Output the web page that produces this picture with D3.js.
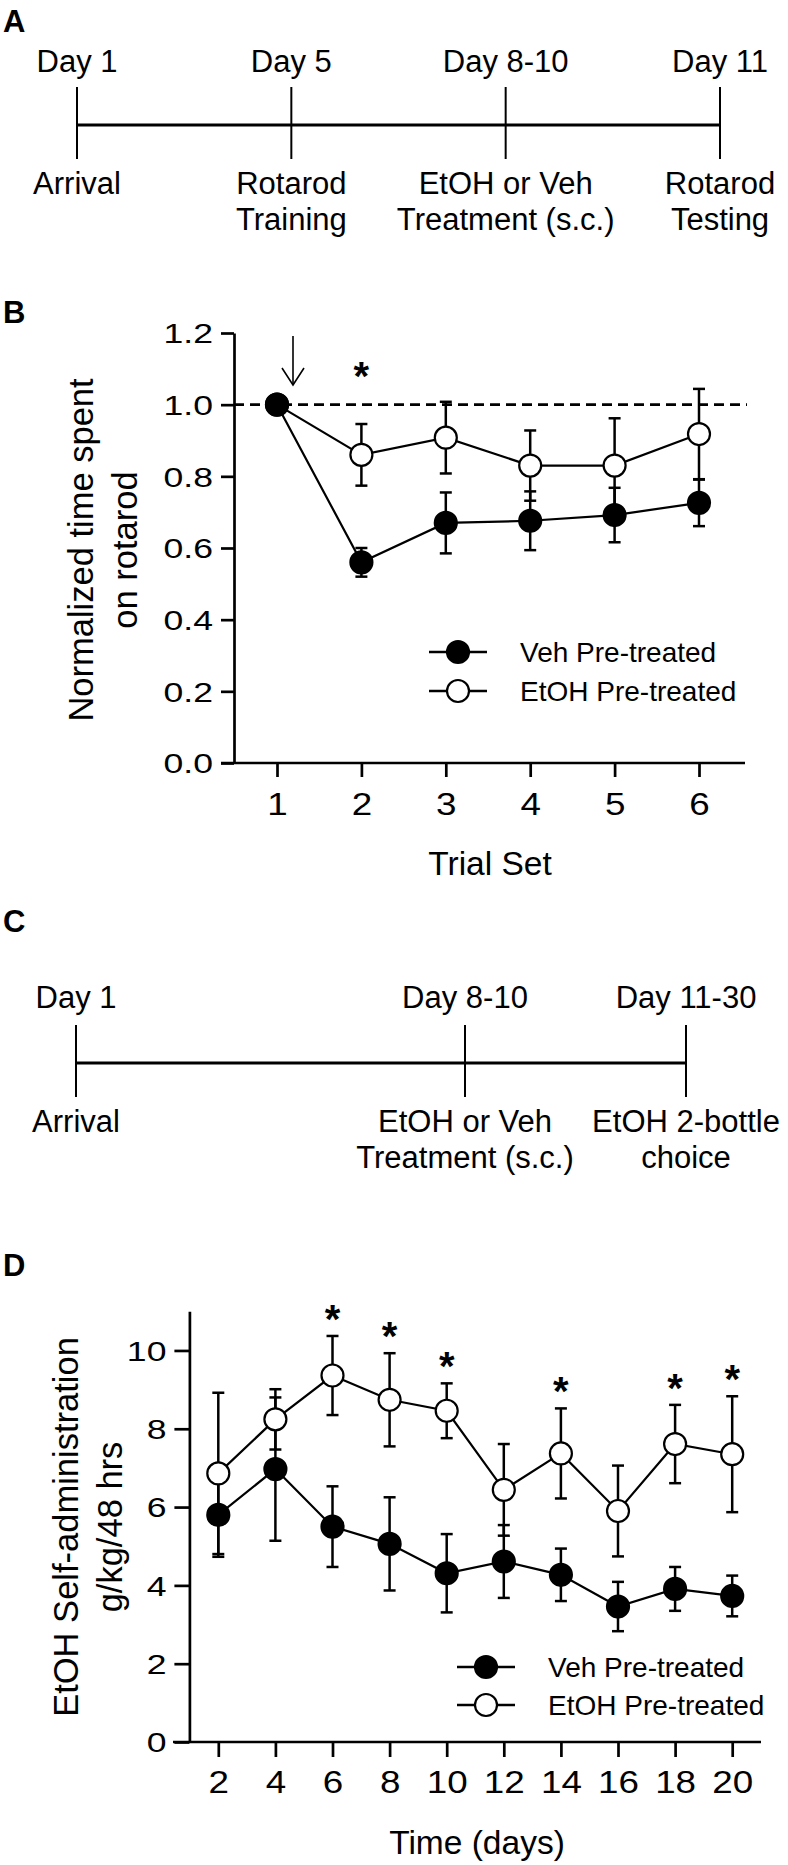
<!DOCTYPE html>
<html><head><meta charset="utf-8">
<script src="https://cdn.jsdelivr.net/npm/d3@7"></script>
<style>
body{margin:0;background:#fff}
svg{display:block}
text{font-family:"Liberation Sans",Arial,Helvetica,sans-serif;fill:#000}
</style>
</head><body>
<svg id="fig" width="788" height="1865"></svg>
<script>
// ---------- DATA ----------
// Panel A timeline
const eventsA = ["Day 1", "Day 5", "Day 8-10", "Day 11"];
const labelsA = [["Arrival"], ["Rotarod", "Training"], ["EtOH or Veh", "Treatment (s.c.)"], ["Rotarod", "Testing"]];
// Panel C timeline
const eventsC = ["Day 1", "Day 8-10", "Day 11-30"];
const labelsC = [["Arrival"], ["EtOH or Veh", "Treatment (s.c.)"], ["EtOH 2-bottle", "choice"]];
// Panel B: rotarod
const trials = [1, 2, 3, 4, 5, 6];
const bVehMean = [1.0, 0.56, 0.67, 0.676, 0.692, 0.726];
const bVehSem = [0, 0.04, 0.085, 0.082, 0.076, 0.065];
const bEtohMean = [1.0, 0.86, 0.908, 0.83, 0.83, 0.918];
const bEtohSem = [0, 0.086, 0.10, 0.098, 0.132, 0.126];
const bSig = [2];
const bYTicks = [0, 0.2, 0.4, 0.6, 0.8, 1.0, 1.2];
const bYTitle = ["Normalized time spent", "on rotarod"];
const bXTitle = "Trial Set";
// Panel D: self-administration
const days = [2, 4, 6, 8, 10, 12, 14, 16, 18, 20];
const dVehMean = [5.80, 6.97, 5.50, 5.06, 4.31, 4.61, 4.27, 3.46, 3.91, 3.73];
const dVehSem = [1.07, 1.83, 1.03, 1.19, 1.00, 0.93, 0.67, 0.63, 0.56, 0.52];
const dEtohMean = [6.86, 8.24, 9.36, 8.74, 8.46, 6.44, 7.37, 5.90, 7.61, 7.35];
const dEtohSem = [2.06, 0.77, 1.01, 1.19, 0.70, 1.17, 1.15, 1.16, 1.00, 1.48];
const dSig = [6, 8, 10, 14, 18, 20];
const dYTicks = [0, 2, 4, 6, 8, 10];
const dYTitle = ["EtOH Self-administration", "g/kg/48 hrs"];
const dXTitle = "Time (days)";
const legendLabels = ["Veh Pre-treated", "EtOH Pre-treated"];
const panelLetters = ["A", "B", "C", "D"];

// ---------- DRAWING ----------
const svg = d3.select("#fig");

function txt(g, x, y, s, size, o = {}) {
  let tr = `translate(${x},${y})`;
  if (o.rot) tr += ` rotate(${o.rot})`;
  if (o.sx) tr += ` scale(${o.sx},1)`;
  const t = g.append("text").attr("transform", tr)
    .attr("font-size", size).attr("text-anchor", o.anchor || "middle").text(s);
  if (o.bold) t.attr("font-weight", "bold");
  return t;
}

// panel letters
const letterY = [32, 323, 932, 1276];
panelLetters.forEach((L, i) => txt(svg, 3, letterY[i], L, 31, {anchor: "start", bold: true}));

// ---- timelines ----
function timeline(events, labels, x, yLine, yDay, yLab) {
  const g = svg.append("g");
  g.append("line").attr("x1", x(events[0])).attr("x2", x(events[events.length - 1]))
    .attr("y1", yLine).attr("y2", yLine).attr("stroke", "#000").attr("stroke-width", 3);
  events.forEach((e, i) => {
    g.append("line").attr("x1", x(e)).attr("x2", x(e)).attr("y1", yLine - 38).attr("y2", yLine + 34)
      .attr("stroke", "#000").attr("stroke-width", 2);
    txt(g, x(e), yDay, e, 31);
    labels[i].forEach((l, j) => txt(g, x(e), yLab + j * 36, l, 31));
  });
}
const xA = d3.scalePoint().domain(eventsA).range([77, 720]);
timeline(eventsA, labelsA, xA, 125, 72, 194);
const xC = d3.scaleOrdinal().domain(eventsC).range([76, 465, 686]);
timeline(eventsC, labelsC, xC, 1063, 1008, 1132);

// ---- generic XY panel ----
function panel(cfg) {
  const {x, y, xVals, veh, vehSem, etoh, etohSem, yTicks, yFmt, axisX, xLeft, xRight,
         yTickLen, yTickTextDx, xTickLen, xTickBase} = cfg;
  const g = svg.append("g");
  const y0 = y(0);
  // y axis
  const ya = g.append("g").attr("transform", `translate(${axisX},0)`)
    .call(d3.axisLeft(y).tickValues(yTicks).tickSize(yTickLen).tickSizeOuter(0).tickFormat(yFmt));
  ya.select(".domain").attr("stroke-width", 2.7);
  ya.selectAll(".tick line").attr("stroke-width", 2.7);
  ya.selectAll(".tick text").attr("x", null).attr("dy", "0.35em").attr("font-size", 28)
    .attr("fill", "#000")
    .attr("transform", `translate(${yTickTextDx},0) scale(1.27,1)`);
  ya.attr("font-family", null).attr("font-size", null);
  // x axis
  const xa = g.append("g").attr("transform", `translate(0,${y0})`)
    .call(d3.axisBottom(x).tickValues(xVals).tickSize(xTickLen).tickSizeOuter(0).tickFormat(d3.format("d")));
  xa.select(".domain").remove();
  xa.selectAll(".tick line").attr("stroke-width", 2.7);
  xa.selectAll(".tick text").attr("y", null).attr("dy", null).attr("font-size", 32)
    .attr("fill", "#000").attr("transform", `translate(0,${xTickBase}) scale(1.15,1)`);
  xa.attr("font-family", null).attr("font-size", null);
  g.append("line").attr("x1", xLeft).attr("x2", xRight).attr("y1", y0).attr("y2", y0)
    .attr("stroke", "#000").attr("stroke-width", 2.7);

  if (cfg.dashed !== undefined) {
    g.append("line").attr("x1", axisX).attr("x2", xRight + 2).attr("y1", y(cfg.dashed)).attr("y2", y(cfg.dashed))
      .attr("stroke", "#000").attr("stroke-width", 2.6).attr("stroke-dasharray", "10,6");
  }

  const series = [
    {m: etoh, s: etohSem, fill: "#fff"},
    {m: veh, s: vehSem, fill: "#000"}
  ];
  // error bars
  series.forEach(sr => {
    xVals.forEach((xv, i) => {
      if (!sr.s[i]) return;
      const cx = x(xv), yt = y(sr.m[i] + sr.s[i]), yb = y(sr.m[i] - sr.s[i]);
      g.append("line").attr("x1", cx).attr("x2", cx).attr("y1", yt).attr("y2", yb)
        .attr("stroke", "#000").attr("stroke-width", 2.5);
      [yt, yb].forEach(yy => g.append("line").attr("x1", cx - 6).attr("x2", cx + 6)
        .attr("y1", yy).attr("y2", yy).attr("stroke", "#000").attr("stroke-width", 2.5));
    });
  });
  // lines
  const line = d3.line().x((d, i) => x(xVals[i])).y(d => y(d));
  series.forEach(sr => g.append("path").attr("d", line(sr.m)).attr("fill", "none")
    .attr("stroke", "#000").attr("stroke-width", 2.2));
  // markers
  series.forEach(sr => {
    g.selectAll(null).data(sr.m).enter().append("circle")
      .attr("cx", (d, i) => x(xVals[i])).attr("cy", d => y(d)).attr("r", 11)
      .attr("fill", sr.fill).attr("stroke", "#000").attr("stroke-width", 2.2);
  });
  // significance stars
  cfg.sig.forEach(sv => {
    const i = xVals.indexOf(sv);
    const cy = y(etoh[i] + etohSem[i]) - cfg.starOffset;
    txt(g, x(sv), cy + 23, "*", 40, {bold: true});
  });
  // legend
  const leg = cfg.legend;
  legendLabels.forEach((lab, k) => {
    const ly = leg.y + k * leg.dy;
    g.append("line").attr("x1", leg.x).attr("x2", leg.x + 58).attr("y1", ly).attr("y2", ly)
      .attr("stroke", "#000").attr("stroke-width", 2.5);
    g.append("circle").attr("cx", leg.x + 29).attr("cy", ly).attr("r", 11)
      .attr("fill", k === 0 ? "#000" : "#fff").attr("stroke", "#000").attr("stroke-width", 2.2);
    txt(g, leg.x + 91, ly + 10, lab, 28, {anchor: "start"});
  });
  // titles
  cfg.yTitle.forEach((t, k) => txt(g, cfg.yTitleX[k], cfg.yTitleY, t, 34.5, {rot: -90}));
  txt(g, cfg.xTitleX, cfg.xTitleY, cfg.xTitle, 33.5);
  return g;
}

// Panel B
const xB = d3.scaleLinear().domain([1, 6]).range([277, 699]);
const yB = d3.scaleLinear().domain([0, 1.2]).range([763, 333]);
const gB = panel({
  x: xB, y: yB, xVals: trials, veh: bVehMean, vehSem: bVehSem, etoh: bEtohMean, etohSem: bEtohSem,
  yTicks: bYTicks, yFmt: d3.format(".1f"), axisX: 234, xLeft: 221, xRight: 745,
  yTickLen: 13, yTickTextDx: -21, xTickLen: 14, xTickBase: 52,
  dashed: 1.0, sig: bSig, starOffset: 57,
  legend: {x: 429, y: 652, dy: 39},
  yTitle: bYTitle, yTitleX: [93, 137], yTitleY: 550,
  xTitle: bXTitle, xTitleX: 490, xTitleY: 875
});
// arrow marking trial 1
{
  const ax = xB(1) + 16, ay1 = yB(1.2) + 3, ay2 = yB(1.055);
  gB.append("line").attr("x1", ax).attr("x2", ax).attr("y1", ay1).attr("y2", ay2)
    .attr("stroke", "#000").attr("stroke-width", 1.6);
  gB.append("path").attr("d", `M${ax - 11},${ay2 - 17}L${ax},${ay2}L${ax + 11},${ay2 - 17}`)
    .attr("fill", "none").attr("stroke", "#000").attr("stroke-width", 1.6);
}

// Panel D
const xD = d3.scaleLinear().domain([2, 20]).range([218.3, 732.2]);
const yD = d3.scaleLinear().domain([0, 11]).range([1742, 1311.3]);
panel({
  x: xD, y: yD, xVals: days, veh: dVehMean, vehSem: dVehSem, etoh: dEtohMean, etohSem: dEtohSem,
  yTicks: dYTicks, yFmt: d3.format("d"), axisX: 189.4, xLeft: 173, xRight: 761,
  yTickLen: 15, yTickTextDx: -23, xTickLen: 15, xTickBase: 51,
  sig: dSig, starOffset: 26,
  legend: {x: 457, y: 1667, dy: 38},
  yTitle: dYTitle, yTitleX: [78, 122], yTitleY: 1527,
  xTitle: dXTitle, xTitleX: 477, xTitleY: 1854
});
</script>
</body></html>
